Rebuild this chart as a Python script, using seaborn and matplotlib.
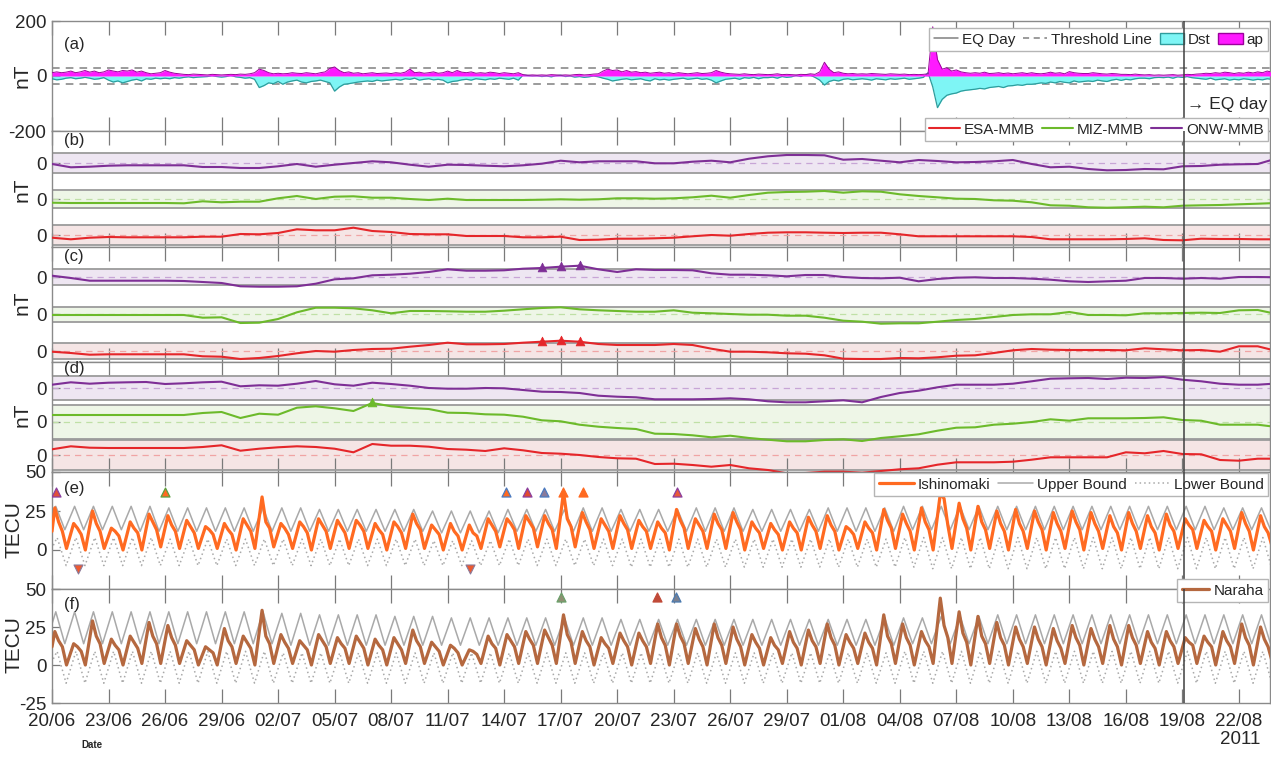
import numpy as np
import pandas as pd
import matplotlib
matplotlib.use("Agg")
import matplotlib.pyplot as plt
from matplotlib.lines import Line2D
from matplotlib.patches import Patch
import seaborn as sns

# ------------------------------------------------------------------ data
START = pd.Timestamp("2011-06-20")
X_MAX = 64.65            # days after START at the right edge
EQ_DAY = 60.08           # 19/08/2011
TICK_DAYS = list(range(0, 64, 3))

# (a) ap and Dst (nT), four samples per day (00, 06, 12, 18 UT)
AP = [
    [12, 15, 12, 14], [18, 12, 15, 20], [14, 18, 12, 15], [22, 18, 15, 20], [18, 22, 14, 18],
    [12, 8, 10, 12], [20, 14, 10, 8], [6, 5, 7, 6], [5, 4, 6, 5], [4, 5, 6, 5],
    [7, 6, 8, 12], [25, 20, 12, 8], [10, 8, 9, 12], [10, 9, 12, 10], [8, 12, 15, 28],
    [33, 20, 12, 15], [10, 12, 8, 10], [12, 9, 10, 11], [9, 12, 10, 14], [25, 12, 14, 10],
    [12, 15, 10, 12], [18, 12, 20, 14], [12, 15, 10, 12], [10, 14, 12, 9], [12, 10, 8, 12],
    [5, 3, 4, 3], [4, 3, 5, 4], [3, 4, 3, 5], [6, 4, 5, 7], [8, 18, 25, 20],
    [22, 15, 20, 14], [16, 12, 14, 10], [12, 14, 10, 12], [9, 12, 10, 8], [10, 12, 9, 10],
    [12, 20, 14, 10], [8, 7, 6, 8], [6, 5, 7, 6], [5, 6, 8, 5], [6, 5, 4, 6],
    [5, 8, 6, 15], [50, 25, 12, 15], [10, 8, 9, 7], [8, 7, 9, 8], [7, 6, 8, 7],
    [6, 7, 5, 6], [5, 6, 8, 179], [60, 25, 30, 18], [22, 15, 12, 10], [12, 10, 14, 9],
    [10, 12, 9, 11], [8, 10, 12, 9], [12, 9, 8, 10], [14, 10, 12, 8], [16, 12, 10, 9],
    [9, 12, 10, 8], [7, 9, 8, 6], [6, 5, 7, 5], [4, 5, 3, 4], [3, 4, 5, 3],
    [4, 6, 5, 7], [8, 10, 9, 12], [10, 14, 12, 9], [12, 10, 14, 11], [15, 12, 18, 14],
]
DST = [
    [-10, -14, -12, -8], [-6, -10, -8, -5], [-8, -12, -10, -6], [-15, -22, -18, -25], [-20, -15, -12, -18],
    [-10, -12, -8, -10], [-8, -10, -6, -8], [-5, -3, -6, -4], [-3, -2, 1, -2], [-4, -2, 2, -3],
    [-5, -8, -6, -12], [-42, -35, -25, -28], [-20, -30, -22, -18], [-15, -22, -25, -20], [-18, -15, -20, -25],
    [-55, -40, -30, -28], [-25, -22, -20, -18], [-20, -15, -18, -16], [-14, -12, -15, -10], [-12, -8, -15, -12],
    [-10, -14, -12, -15], [-25, -20, -18, -14], [-12, -15, -10, -12], [-14, -10, -12, -8], [-10, -12, -8, -15],
    [3, 2, 0, 1], [-2, 0, -3, 1], [3, -2, 0, -4], [-2, -5, -3, 0], [-3, -8, -12, -18],
    [-15, -12, -10, -14], [-12, -10, -15, -18], [-10, -14, -12, -15], [-12, -10, -8, -12], [-10, -8, -12, -10],
    [-15, -25, -18, -12], [-10, -8, -12, -6], [-8, -5, -10, -6], [-6, -4, -8, -2], [-5, -3, 2, -2],
    [5, 3, -5, -15], [-33, -20, -15, -18], [-12, -10, -14, -12], [-10, -12, -15, -10], [-12, -14, -10, -12],
    [-10, -8, -12, -10], [-8, -5, 12, -40], [-115, -85, -70, -65], [-62, -55, -52, -50], [-48, -45, -47, -42],
    [-40, -38, -42, -36], [-35, -32, -34, -30], [-30, -28, -25, -27], [-22, -25, -20, -23], [-25, -18, -22, -20],
    [-18, -20, -15, -18], [-20, -15, -12, -16], [-12, -14, -10, -8], [-8, -10, -6, -5], [-6, -4, -8, -3],
    [-5, -2, -6, -8], [-10, -12, -8, -14], [-12, -10, -15, -12], [-14, -10, -12, -15], [-12, -14, -10, -12],
]
THRESHOLD = 30

# (b)-(d) daily station-minus-MMB differences (nT), days 0..65
ESA_B = [-2.7, -4.3, -2.7, -2, -2.3, -2.3, -2.3, -2.3, -1.7, -1.7, 1, 0.7, 2, 5.7, 4.7, 4.7, 7.3, 4, 3, 1,
         0.7, 0.7, -1, -1, -1, -2.3, -2.3, -1.7, -5, -4.7, -3.7, -3.7, -3.3, -2.7, -1.3, 0, -0.7, 1, 2.3, 2.7,
         2.7, 2.3, 2, 2.3, 2.3, 0.7, -1.3, -1.3, -1.3, -1.3, -1.3, -1.3, -2, -4.3, -4.3, -4.3, -4.3, -4, -3.3, -5,
         -5.3, -3.7, -4, -4, -4.3, -4.3]
MIZ_B = [-3.7, -4, -4, -4, -4, -4, -4, -4.3, -2.3, -3.3, -2.7, -2.7, 0.7, 3, 0, 2.3, 2.7, 1.3, 1.3, 0,
         -1, 0.3, -1, -1, -1, -1, -0.7, -0.3, -0.7, -0.3, 0.7, 0.7, 0.3, 0.7, 1.7, 3.3, 1.3, 4, 6.3, 7,
         7.3, 8, 6.3, 7.7, 7.3, 4.7, 3, 1.7, 0.3, 0, -1.3, -1.7, -3.3, -6.3, -6.7, -8.3, -8.7, -8.3, -7.7, -8.3,
         -6.7, -6.3, -6, -5.3, -4.7, -4]
ONW_B = [-1, -4.3, -3.7, -2.7, -2.3, -2.3, -2.3, -2.3, -4, -4, -5, -5, -3.3, -1, -3.7, -1.7, 0, 1.7, 0.7, -1.7,
         -3.7, -1.7, -2, -2.7, -3.3, -2.3, -0.7, 2.3, 0.7, 1.7, 1.7, 1.7, -0.3, -0.3, 1.3, 2.3, 0.7, 4.3, 6.7, 8,
         8, 7.7, 3.3, 4, 2.3, 0.7, 3, 2, 0.7, 1, 1.7, 3, -1, -4.3, -3.7, -6, -7.3, -7, -6, -6.3,
         -3.3, -3, -1.7, -1.3, -1, 4.5]

ESA_C = [-0.7, -2, -3.7, -3.3, -3.3, -3.3, -3.3, -3.3, -5.3, -5.7, -8, -7, -5, -2.3, 0, -0.7, 1, 2, 2.3, 4.3,
         6, 8.3, 6.7, 6.7, 7, 8.3, 9.3, 10.3, 9.3, 7, 6, 6, 6, 7, 6, 2.3, -0.7, -0.7, -1.3, -2.3,
         -2.7, -4.3, -7.7, -8, -8, -7, -7.3, -6.3, -4.7, -4.3, -2, 0.7, 2, 1.3, 1, 1, 1, 0.7, 2.7, 1.7,
         0.7, 1, -0.7, 4.7, 4.7, 0]
MIZ_C = [-1, -1, -1, -1, -1, -1, -1, -1, -3.7, -3.3, -9, -8.7, -5, 1.7, 6.3, 6.3, 5.7, 3.7, 0.7, 3,
         3, 2.7, 2.3, 2.3, 3.3, 4.7, 6, 6.7, 4.7, 3.7, 3, 2.3, 2.3, 3.7, 1.3, 0.7, 0, -0.7, -0.7, -1.7,
         -1.7, -3.7, -6.7, -7.7, -9.7, -9.3, -9.3, -7.7, -6, -5, -3, -1, -0.3, -0.3, 2, -1, -1, -1.3, 0.7, 0.7,
         1, 1.3, 1, 3.7, 4, 0]
ONW_C = [1.3, -1, -3.7, -3.7, -3.7, -3.7, -3.7, -4, -5, -6, -9.3, -9.7, -9.7, -9.3, -6.7, -2.3, -1.3, 1.7, 2.3, 3.3,
         5, 7.7, 6.3, 6.3, 6.7, 8.3, 9, 10.3, 11.3, 7.7, 5, 7.7, 7, 7, 6.7, 3.7, 2.3, 2.3, 1.7, 0.7,
         2, 2, 0, -1, -1.3, -0.7, -4.3, -2, -0.7, -0.3, -1, -1, -1.7, -2.7, -4.3, -5, -4.3, -3.7, -1, -1,
         -1.7, -1, -1.7, 0, 0, -0.3]

ESA_D = [5.7, 8.7, 7.3, 7, 7, 7, 7, 7, 8, 9.7, 4.3, 6.3, 7.7, 8.7, 8, 6.3, 2.7, 11, 9.3, 9.3,
         8.3, 6, 5.3, 4, 6.7, 4.7, 2, 1.3, 0, -2, -3.3, -3.7, -9, -8.7, -10, -11.7, -10, -13.3, -15, -18.3,
         -18, -16.7, -16.7, -17.7, -16, -14.3, -13.3, -9.7, -7.3, -7.3, -7.3, -6.7, -4.7, -2.3, -2.3, -2.3, -2.3, 2.7, 1.7, 4,
         1, 0.7, -5, -5.7, -3.7, -3.7]
MIZ_D = [7, 7, 7, 7, 7, 7, 7, 7, 9, 10, 4, 8.3, 7.3, 14.3, 15.7, 13.7, 11, 19, 15.7, 14,
         13, 9.3, 9, 7.7, 7.3, 5.3, 1.7, 0.7, -2.7, -4.7, -6, -7, -11.7, -12, -13.3, -15.3, -13.7, -16, -17.7, -19.3,
         -19.3, -18, -17.3, -19, -16, -14.3, -12.3, -8.7, -5.7, -5.3, -2.7, -1.7, 0, 2.7, 1.3, 3.7, 3.7, 3.7, 4, 4.7,
         2, 1.3, -2.7, -2.7, -2.7, -5]
ONW_D = [3.3, 5.7, 4.3, 5.3, 5.7, 6, 4, 4.7, 5.7, 6.3, 1.7, 2.7, 2.3, 4.3, 7, 3.7, 2.3, 5.3, 4, 2.3,
         0, -0.7, -0.7, 0, -0.3, -2, -3.7, -4, -5, -7.7, -8.7, -9.3, -11.3, -11.3, -11.3, -11, -10.3, -11.3, -13.3, -14.3,
         -14.3, -13.3, -12.3, -14.3, -9, -5, -2.7, 0.7, 3.3, 3.3, 3.3, 4.3, 6.7, 9.3, 9.7, 10, 9, 10.3, 10, 11,
         8.3, 6.7, 4.3, 3.3, 3.3, 4.5]

# anomaly flags (days) in (c) and (d)
C_FLAG_DAYS = [26, 27, 28]
D_FLAG_DAYS = [17]

# (e)/(f) TEC (TECU): value at start, then per day [peak, shoulder, afternoon, night trough]
ISHI_START = 12
ISHI = [
    [27, 18, 12, 1], [17, 14, 10, 0], [25, 17, 12, 1], [14, 12, 9, 0], [18, 14, 11, 0], [23, 18, 13, 2],
    [22, 16, 12, 1], [19, 15, 11, 1], [15, 13, 10, 1], [17, 13, 10, 0], [20, 16, 12, 1], [34, 18, 14, 2],
    [17, 14, 10, 1], [18, 15, 11, 0], [20, 16, 12, 1], [19, 15, 11, 1], [19, 16, 12, 1], [17, 13, 10, 0],
    [18, 15, 11, 1], [23, 17, 13, 1], [16, 13, 10, 0], [17, 12, 9, 0], [16, 11, 9, 1], [20, 16, 12, 2],
    [20, 17, 13, 1], [22, 18, 14, 2], [22, 17, 13, 1], [37, 20, 15, 2], [24, 18, 13, 1], [20, 16, 12, 1],
    [22, 17, 13, 1], [19, 15, 12, 1], [18, 14, 11, 0], [26, 19, 14, 1], [20, 16, 12, 1], [23, 17, 13, 1],
    [24, 18, 13, 0], [18, 14, 11, 1], [17, 13, 10, 0], [18, 14, 11, 0], [21, 16, 12, 1], [22, 16, 12, 0],
    [15, 13, 10, 1], [18, 14, 11, 0], [26, 19, 14, 1], [23, 17, 12, 0], [27, 18, 13, 0], [36, 33, 16, 1],
    [30, 20, 14, 0], [28, 18, 13, 1], [25, 17, 12, 0], [26, 17, 12, 1], [25, 18, 13, 0], [24, 17, 12, 1],
    [25, 18, 13, 0], [24, 17, 12, 1], [22, 15, 11, 0], [24, 17, 12, 1], [22, 15, 11, 0], [23, 16, 12, 1],
    [20, 16, 13, 1], [19, 15, 12, 0], [20, 16, 12, 1], [24, 17, 12, 0], [22, 15, 11, 2],
]
NARAHA_START = 12
NARAHA = [
    [22, 16, 12, 0], [14, 12, 9, 0], [29, 19, 14, 1], [17, 13, 10, 0], [19, 15, 11, 1], [28, 19, 14, 1],
    [26, 18, 13, 1], [16, 13, 10, 0], [12, 10, 8, 0], [24, 16, 12, 1], [19, 15, 11, 0], [36, 19, 14, 1],
    [20, 15, 11, 1], [16, 13, 10, 0], [20, 16, 12, 1], [18, 14, 11, 1], [19, 15, 11, 0], [17, 13, 10, 0],
    [18, 14, 10, 1], [23, 16, 12, 1], [15, 12, 9, 0], [13, 11, 8, 0], [10, 9, 7, 1], [19, 14, 11, 0],
    [20, 16, 12, 1], [22, 17, 13, 1], [23, 18, 13, 1], [33, 20, 15, 1], [22, 16, 12, 0], [18, 14, 11, 1],
    [21, 16, 12, 0], [21, 16, 12, 1], [27, 18, 13, 0], [27, 19, 14, 1], [24, 17, 12, 0], [27, 18, 13, 1],
    [25, 17, 12, 0], [20, 15, 11, 0], [18, 13, 10, 1], [22, 15, 11, 0], [23, 16, 12, 1], [27, 18, 13, 0],
    [20, 15, 11, 1], [21, 15, 11, 0], [33, 19, 14, 1], [27, 18, 13, 0], [22, 16, 12, 1], [44, 26, 18, 1],
    [35, 21, 15, 0], [32, 19, 14, 1], [28, 18, 13, 0], [25, 17, 12, 1], [25, 17, 12, 0], [24, 16, 11, 1],
    [26, 18, 13, 0], [24, 17, 12, 1], [26, 17, 12, 0], [26, 18, 13, 1], [22, 15, 11, 0], [22, 16, 12, 1],
    [18, 15, 13, 1], [19, 15, 12, 0], [22, 16, 12, 1], [27, 18, 13, 0], [25, 17, 12, 2],
]
# bounds: value at start, then per day [max, min]
ISHI_UP_START, ISHI_LO_START = 25, 3
ISHI_UP_MAX = [28, 28, 28, 28, 28, 28, 27, 27, 27, 27, 27, 27, 27, 27, 26, 26, 26, 26, 26, 26, 25, 25, 25, 25, 26,
               26, 26, 26, 27, 27, 26, 26, 26, 26, 27, 27, 27, 26, 26, 26, 26, 27, 27, 27, 27, 28, 28, 28, 28, 28,
               28, 28, 28, 28, 28, 28, 28, 28, 28, 28, 28, 28, 27, 27, 27]
ISHI_UP_MIN = [13, 13, 13, 13, 12, 12, 12, 12, 12, 12, 12, 12, 12, 12, 12, 12, 12, 12, 12, 12, 11, 11, 11, 11, 12,
               12, 12, 12, 12, 12, 12, 12, 12, 12, 12, 12, 12, 12, 12, 12, 12, 12, 12, 12, 12, 13, 13, 13, 13, 13,
               13, 13, 13, 13, 13, 13, 13, 13, 13, 13, 13, 13, 13, 13, 13]
ISHI_LO_MAX = [8, 8, 8, 8, 8, 8, 7, 7, 7, 7, 7, 7, 7, 7, 7, 7, 7, 7, 7, 7, 6, 6, 6, 6, 7,
               7, 7, 7, 7, 7, 7, 7, 7, 7, 7, 7, 7, 7, 7, 7, 7, 7, 7, 7, 7, 8, 8, 8, 8, 8,
               8, 8, 8, 8, 8, 8, 8, 8, 8, 8, 8, 8, 8, 8, 8]
ISHI_LO_MIN = [-10, -10, -10, -10, -10, -10, -10, -10, -10, -10, -10, -10, -10, -10, -10, -10, -10, -10, -10, -10,
               -10, -10, -10, -10, -10, -10, -10, -10, -10, -10, -11, -11, -11, -11, -11, -11, -11, -11, -11, -11,
               -11, -11, -11, -11, -11, -11, -12, -12, -12, -12, -12, -12, -12, -12, -12, -12, -12, -12, -12, -12,
               -12, -12, -12, -12, -12]
NARAHA_UP_START, NARAHA_LO_START = 27, 4
NARAHA_UP_MAX = [35, 35, 35, 35, 35, 35, 35, 35, 35, 35, 35, 35, 34, 34, 33, 33, 33, 33, 32, 32, 32, 31, 31, 31, 31,
                 31, 31, 31, 31, 31, 30, 30, 30, 30, 30, 30, 30, 30, 30, 30, 30, 30, 30, 30, 31, 31, 31, 32, 32, 32,
                 33, 33, 33, 33, 33, 33, 33, 33, 33, 33, 33, 33, 33, 33, 33]
NARAHA_UP_MIN = [14, 14, 14, 14, 14, 14, 14, 14, 14, 14, 14, 14, 13, 13, 13, 13, 13, 13, 13, 13, 13, 13, 13, 13, 13,
                 13, 13, 13, 13, 13, 13, 13, 13, 13, 13, 13, 13, 13, 13, 13, 13, 13, 13, 13, 13, 14, 14, 14, 14, 14,
                 14, 14, 14, 14, 14, 14, 14, 14, 14, 14, 14, 14, 14, 14, 14]
NARAHA_LO_MAX = [9, 9, 9, 9, 9, 9, 9, 9, 9, 9, 9, 9, 8, 8, 8, 8, 8, 8, 8, 8, 8, 8, 8, 8, 8,
                 8, 8, 8, 8, 8, 8, 8, 8, 8, 8, 8, 8, 8, 8, 8, 8, 8, 8, 8, 8, 9, 9, 9, 9, 9,
                 9, 9, 9, 9, 9, 9, 9, 9, 9, 9, 9, 9, 9, 9, 9]
NARAHA_LO_MIN = [-12, -12, -12, -12, -12, -12, -12, -12, -12, -12, -12, -12, -12, -12, -12, -12, -12, -12, -12, -12,
                 -12, -12, -12, -12, -12, -12, -12, -12, -12, -12, -12, -12, -12, -12, -12, -12, -12, -12, -12, -12,
                 -12, -12, -12, -12, -12, -12, -12, -12, -12, -12, -12, -12, -12, -12, -12, -12, -12, -12, -12, -12,
                 -12, -12, -12, -12, -12]

# TEC anomaly markers (day, level)
E_UP_DAYS = [0.2, 6.0, 24.1, 25.2, 26.1, 27.1, 28.2, 33.2]
E_UP_LEVEL = 37
E_DOWN_DAYS = [1.4, 22.2]
E_DOWN_LEVEL = -12
F_UP_DAYS = [27.0, 32.1, 33.1]
F_UP_LEVEL = 45

# ------------------------------------------------------------------ style
sns.set_theme(style="white")
plt.rcParams["font.family"] = ["Liberation Sans", "DejaVu Sans"]
plt.rcParams["axes.linewidth"] = 1.0
plt.rcParams["axes.unicode_minus"] = False

RED, GREEN, PURPLE = "#e5262a", "#6cba2b", "#7e2f96"
ORANGE, BROWN, GREY = "#ff6a21", "#b5683f", "#a9a9a9"
SPINE = "#8a8a8a"
LEG_FS = 11

W, H = 1271, 759
fig = plt.figure(figsize=(W / 100, H / 100), dpi=100)


def fy(y):
    return 1 - y / H


LEFT = 52 / W
PANELS = [(21, 131), (131, 247), (247, 362), (362, 472), (472, 589), (589, 703)]
axes = []
for top, bot in PANELS:
    ax = fig.add_axes([LEFT, fy(bot), 1 - LEFT - 0.0008, (bot - top) / H])
    axes.append(ax)


def line(ax, x, y, **kw):
    sns.lineplot(x=np.asarray(x, float), y=np.asarray(y, float), ax=ax,
                 estimator=None, sort=False, legend=False, **kw)


def finish(ax, last=False):
    ax.set_xlim(0, X_MAX)
    ax.set_xticks(TICK_DAYS)
    if last:
        ax.set_xticklabels([(START + pd.Timedelta(days=d)).strftime("%d/%m") for d in TICK_DAYS])
    else:
        ax.set_xticklabels([])
    ax.tick_params(axis="x", direction="in", length=10, top=True, bottom=True,
                   color="#7a7a7a", width=0.9, labelsize=13.5, pad=7)
    ax.tick_params(axis="y", direction="in", length=6, left=True, color="#7a7a7a",
                   width=0.9, labelsize=13.5, pad=4)
    for sp in ax.spines.values():
        sp.set_color(SPINE)
        sp.set_linewidth(1.0)
    ax.set_xlabel("")
    ax.set_ylabel("")
    ax.axvline(EQ_DAY, color="#3f3f3f", lw=1.1, zorder=6)


def legend(ax, handles, labels, top, ncol=1, hl=1.6):
    ax.legend(handles, labels, loc="upper right", bbox_to_anchor=(1268 / W, fy(top)),
              bbox_transform=fig.transFigure, ncol=ncol, fontsize=LEG_FS, borderpad=0.3,
              handlelength=hl, handletextpad=0.25, columnspacing=0.5, borderaxespad=0,
              fancybox=False, framealpha=1, edgecolor="#b5b5b5")


# ---- (a)
ax = axes[0]
t4 = np.arange(len(AP) * 4) / 4.0
ap_v = np.ravel(AP)
dst_v = np.ravel(DST)
ax.fill_between(t4, 0, dst_v, color="#7ef5f5", lw=0, zorder=2)
line(ax, t4, dst_v, color="#2e9c9c", lw=0.9, zorder=3)
ax.fill_between(t4, 0, ap_v, color="#ff1aff", lw=0, zorder=4)
line(ax, t4, ap_v, color="#9c009c", lw=0.7, zorder=5)
for s in (THRESHOLD, -THRESHOLD):
    ax.axhline(s, color="#808080", lw=1.1, ls=(0, (5, 4)), zorder=1)
ax.set_ylim(-200, 200)
ax.set_yticks([-200, 0, 200])
finish(ax)
legend(ax, [Line2D([0], [0], color="#808080", lw=1.1),
            Line2D([0], [0], color="#808080", lw=1.1, ls=(0, (4, 3))),
            Patch(facecolor="#7ef5f5", edgecolor="#2e9c9c"),
            Patch(facecolor="#ff1aff", edgecolor="#9c009c")],
       ["EQ Day", "Threshold Line", "Dst", "ap"], 28, ncol=4)

# ---- (b)-(d) offset bands
BAND_FILL = {RED: "#f5e5e5", GREEN: "#eef6e7", PURPLE: "#eee6f2"}
BAND_DASH = {RED: "#f0a4a4", GREEN: "#bfe0a6", PURPLE: "#c7a5d6"}
BAND_GEOM = [  # (ylim top, [(centre, half-width) red, green, purple])
    (116, [(12, 10), (48, 8.8), (84, 9.7)]),
    (115, [(11, 8.3), (48, 7.5), (85, 8.3)]),
    (110, [(17, 15), (50, 16.7), (84, 11.7)]),
]
BAND_DATA = [(ESA_B, MIZ_B, ONW_B), (ESA_C, MIZ_C, ONW_C), (ESA_D, MIZ_D, ONW_D)]
days66 = np.arange(len(ESA_B))
for k in range(3):
    ax = axes[k + 1]
    ytop, geom = BAND_GEOM[k]
    for vals, (c, w), col in zip(BAND_DATA[k], geom, (RED, GREEN, PURPLE)):
        ax.axhspan(c - w, c + w, color=BAND_FILL[col], lw=0, zorder=0)
        ax.axhline(c + w, color="#9b9b9b", lw=1.3, zorder=1)
        ax.axhline(c - w, color="#9b9b9b", lw=1.3, zorder=1)
        ax.axhline(c, color=BAND_DASH[col], lw=0.9, ls=(0, (5, 4)), zorder=1)
        line(ax, days66, np.asarray(vals) + c, color=col, lw=1.5, zorder=3)
        if k == 1 and col in (RED, PURPLE):
            yv = [vals[d] + c + 1.2 for d in C_FLAG_DAYS]
            sns.scatterplot(x=C_FLAG_DAYS, y=yv, ax=ax, marker="^", s=40, color=col,
                            edgecolor=col, legend=False, zorder=4)
        if k == 2 and col == GREEN:
            yv = [vals[d] + c + 1.2 for d in D_FLAG_DAYS]
            sns.scatterplot(x=D_FLAG_DAYS, y=yv, ax=ax, marker="^", s=40, color=col,
                            edgecolor=col, legend=False, zorder=4)
    ax.set_ylim(0, ytop)
    ax.set_yticks([g[0] for g in geom])
    ax.set_yticklabels(["0", "0", "0"])
    finish(ax)

legend(axes[1], [Line2D([0], [0], color=RED, lw=1.5), Line2D([0], [0], color=GREEN, lw=1.5),
                 Line2D([0], [0], color=PURPLE, lw=1.5)],
       ["ESA-MMB", "MIZ-MMB", "ONW-MMB"], 118, ncol=3, hl=2.0)

# ---- (e)/(f) TEC
tec_t = np.concatenate([[0.0], (np.arange(len(ISHI))[:, None]
                                + np.array([0.15, 0.35, 0.55, 0.77])).ravel()])
bnd_t = np.concatenate([[0.0], (np.arange(len(ISHI_UP_MAX))[:, None]
                                + np.array([0.2, 0.68])).ravel()])


def tec_panel(ax, start, rows, up0, upmax, upmin, lo0, lomax, lomin, col):
    up = np.concatenate([[up0], np.column_stack([upmax, upmin]).ravel()])
    lo = np.concatenate([[lo0], np.column_stack([lomax, lomin]).ravel()])
    tec = np.concatenate([[start], np.ravel(rows)])
    line(ax, bnd_t, up, color=GREY, lw=1.1, zorder=2)
    line(ax, bnd_t + 0.07, lo, color=GREY, lw=1.1, linestyle=(0, (1, 2)), zorder=2)
    line(ax, tec_t, tec, color=col, lw=2.3, zorder=3)
    ax.set_ylim(-25, 50)


ax = axes[4]
tec_panel(ax, ISHI_START, ISHI, ISHI_UP_START, ISHI_UP_MAX, ISHI_UP_MIN,
          ISHI_LO_START, ISHI_LO_MAX, ISHI_LO_MIN, ORANGE)
E_UP_EDGE = ["#8a3fa0", "#5aa040", "#4a7ac0", "#8a3fa0", "#4a7ac0", ORANGE, ORANGE, "#8a3fa0"]
E_UP_FACE = ["#e0503a", ORANGE, ORANGE, "#e04a30", "#8a7a9a", ORANGE, ORANGE, "#e85a3a"]
for d, fc, ec in zip(E_UP_DAYS, E_UP_FACE, E_UP_EDGE):
    sns.scatterplot(x=[d], y=[E_UP_LEVEL], ax=ax, marker="^", s=42, color=fc,
                    edgecolor=ec, linewidth=0.9, legend=False, zorder=5)
for d in E_DOWN_DAYS:
    sns.scatterplot(x=[d], y=[E_DOWN_LEVEL], ax=ax, marker="v", s=42, color="#ee5a30",
                    edgecolor="#8a7a9a", linewidth=0.8, legend=False, zorder=5)
ax.set_yticks([0, 25, 50])
finish(ax)
legend(ax, [Line2D([0], [0], color=ORANGE, lw=2.3), Line2D([0], [0], color=GREY, lw=1.1),
            Line2D([0], [0], color=GREY, lw=1.1, ls=(0, (1, 2)))],
       ["Ishinomaki", "Upper Bound", "Lower Bound"], 473, ncol=3, hl=2.3)

ax = axes[5]
tec_panel(ax, NARAHA_START, NARAHA, NARAHA_UP_START, NARAHA_UP_MAX, NARAHA_UP_MIN,
          NARAHA_LO_START, NARAHA_LO_MAX, NARAHA_LO_MIN, BROWN)
F_UP_FACE = ["#8f8f72", "#c04a38", "#7a8090"]
F_UP_EDGE = ["#6aa06a", "#c04a38", "#4a7ab0"]
for d, fc, ec in zip(F_UP_DAYS, F_UP_FACE, F_UP_EDGE):
    sns.scatterplot(x=[d], y=[F_UP_LEVEL], ax=ax, marker="^", s=42, color=fc,
                    edgecolor=ec, linewidth=0.9, legend=False, zorder=5)
ax.set_yticks([-25, 0, 25, 50])
finish(ax, last=True)
legend(ax, [Line2D([0], [0], color=BROWN, lw=2.3)], ["Naraha"], 579, hl=1.8)

# ---- texts
for lab, y in zip(["(a)", "(b)", "(c)", "(d)", "(e)", "(f)"], [45, 141, 256, 368, 488, 604]):
    fig.text(64 / W, fy(y), lab, fontsize=12, va="center", ha="left")
for lab, y in [("nT", 76), ("nT", 190), ("nT", 303), ("nT", 415)]:
    fig.text(22 / W, fy(y), lab, fontsize=15, rotation=90, va="center", ha="center")
for lab, y in [("TECU", 530), ("TECU", 645)]:
    fig.text(14 / W, fy(y), lab, fontsize=15, rotation=90, va="center", ha="center")
fig.text(1187 / W, fy(104), "\u2192 EQ day", fontsize=12.5, va="center", ha="left")
fig.text(1240 / W, fy(739), "2011", fontsize=13.5, va="center", ha="center")
fig.text(92 / W, fy(745), "Date", fontsize=7, weight="bold", va="center", ha="center")

fig.savefig("out.png", dpi=100)
